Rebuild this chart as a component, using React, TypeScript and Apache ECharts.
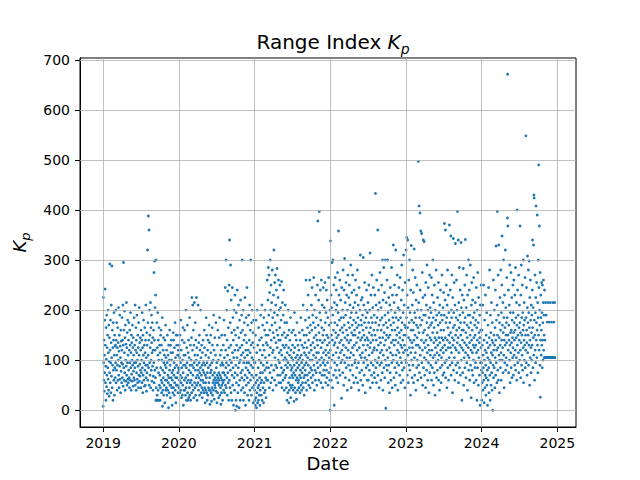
import React, { useEffect, useRef } from "react";
import * as echarts from "echarts";

// Daily range index Kp values, one array per year (index = day of year)
const kp2019 = [
  8, 225, 95, 60, 140, 38, 110, 75, 180, 242, 130, 55, 88, 20, 165, 102, 47, 190, 70, 125, 33, 150, 85, 200, 62, 115, 40, 170, 98, 28, 145,
  75, 292, 120, 55, 180, 95, 35, 135, 210, 68, 105, 288, 45, 160, 90, 125, 20, 175, 80, 140, 60, 195, 110, 30, 150, 85, 128, 65,
  130, 95, 200, 55, 140, 80, 175, 110, 40, 125, 90, 165, 60, 135, 100, 205, 70, 118, 45, 150, 88, 190, 62, 128, 105, 35, 160, 78, 138, 95, 55,
  120, 185, 65, 140, 92, 210, 48, 130, 295, 85, 160, 60, 115, 198, 75, 145, 40, 170, 100, 58, 132, 88, 215, 70, 125, 50, 155, 95, 180, 62,
  110, 55, 140, 80, 175, 65, 120, 45, 160, 95, 130, 60, 195, 85, 115, 40, 150, 72, 135, 100, 58, 170, 90, 125, 48, 145, 78, 110, 65, 185, 95,
  60, 130, 85, 210, 50, 120, 95, 165, 40, 140, 75, 115, 190, 62, 100, 55, 150, 88, 125, 45, 175, 70, 110, 205, 58, 135, 92, 68, 145, 80,
  120, 45, 160, 75, 100, 140, 55, 195, 85, 125, 35, 150, 70, 110, 180, 60, 95, 130, 48, 165, 80, 115, 50, 140, 90, 210, 65, 105, 38, 155, 75,
  130, 90, 320, 60, 175, 110, 388, 85, 140, 360, 50, 200, 95, 150, 70, 125, 215, 45, 165, 100, 80, 190, 135, 58, 115, 175, 88, 145, 40, 120, 68,
  160, 95, 275, 55, 140, 298, 80, 205, 120, 65, 230, 20, 300, 45, 20, 85, 175, 30, 125, 20, 195, 110, 40, 140, 75, 100, 165, 20, 50, 130,
  70, 115, 20, 45, 150, 85, 160, 60, 130, 35, 100, 55, 185, 8, 80, 40, 120, 65, 145, 30, 95, 50, 110, 75, 15, 140, 90, 60, 170, 40, 105,
  85, 45, 120, 60, 30, 95, 150, 40, 70, 110, 55, 5, 130, 65, 35, 100, 80, 160, 50, 90, 25, 130, 50, 115, 65, 140, 100, 45, 75, 10,
  60, 115, 35, 80, 155, 45, 140, 70, 95, 30, 125, 55, 85, 175, 40, 105, 65, 15, 150, 50, 90, 130, 65, 150, 50, 110, 75, 35, 120, 85, 110,
];

const kp2020 = [
  45, 80, 130, 60, 105, 35, 150, 70, 95, 40, 180, 55, 120, 25, 85, 65, 140, 30, 100, 50, 165, 75, 10, 90, 110, 40, 135, 60, 160, 40, 90,
  110, 30, 65, 200, 45, 85, 20, 125, 55, 95, 170, 35, 70, 20, 115, 60, 140, 25, 80, 105, 45, 185, 30, 90, 55, 130, 20, 75, 100,
  60, 145, 35, 225, 90, 50, 120, 210, 70, 40, 160, 85, 25, 130, 95, 215, 55, 110, 45, 175, 80, 30, 140, 65, 100, 225, 50, 125, 20, 90, 70,
  110, 55, 210, 80, 40, 135, 65, 95, 150, 30, 75, 120, 50, 85, 200, 60, 105, 35, 70, 130, 45, 90, 25, 115, 60, 80, 140, 40, 95, 55,
  75, 35, 160, 125, 45, 90, 15, 70, 55, 110, 40, 185, 65, 150, 35, 95, 20, 75, 120, 30, 140, 85, 45, 105, 55, 170, 40, 135, 65, 12, 90,
  40, 75, 150, 115, 35, 80, 18, 95, 45, 165, 130, 30, 70, 55, 100, 40, 190, 60, 120, 22, 75, 50, 145, 65, 45, 110, 55, 175, 38, 85,
  60, 95, 15, 70, 130, 35, 160, 55, 65, 100, 25, 75, 50, 145, 60, 185, 30, 70, 110, 45, 90, 12, 65, 120, 35, 150, 50, 95, 60, 20, 75,
  55, 90, 130, 40, 75, 180, 60, 105, 35, 150, 70, 245, 50, 120, 85, 300, 45, 95, 200, 65, 140, 30, 110, 238, 75, 55, 165, 90, 20, 125, 250,
  60, 340, 100, 45, 175, 80, 290, 130, 35, 220, 95, 155, 20, 70, 245, 115, 50, 185, 85, 140, 10, 105, 200, 65, 160, 40, 120, 230, 75, 0,
  150, 90, 20, 195, 55, 130, 8, 105, 240, 70, 165, 35, 120, 85, 210, 50, 145, 5, 95, 180, 60, 125, 20, 100, 220, 75, 155, 40, 110, 190, 65,
  130, 300, 80, 160, 45, 115, 200, 20, 95, 140, 60, 175, 35, 105, 225, 70, 150, 10, 120, 85, 185, 50, 135, 95, 245, 65, 110, 30, 170, 80,
  120, 55, 190, 95, 20, 140, 75, 210, 40, 115, 160, 60, 300, 90, 130, 30, 175, 70, 105, 200, 45, 135, 85, 155, 15, 100, 180, 65, 125, 50, 95,
];

const kp2021 = [
  40, 20, 95, 10, 150, 55, 25, 180, 70, 5, 115, 35, 200, 60, 15, 130, 45, 85, 20, 165, 50, 100, 30, 140, 65, 10, 120, 40, 75, 190, 55,
  95, 30, 145, 60, 210, 20, 110, 75, 170, 45, 130, 90, 15, 185, 55, 120, 35, 160, 80, 200, 40, 105, 65, 150, 25, 135, 85, 60,
  175, 95, 260, 130, 60, 220, 150, 285, 85, 190, 270, 110, 45, 235, 160, 75, 300, 125, 200, 55, 250, 140, 90, 215, 170, 65, 280, 115, 185, 40, 155,
  120, 230, 80, 320, 145, 195, 60, 255, 105, 175, 270, 90, 210, 135, 50, 240, 160, 85, 283, 125, 190, 70, 150, 225, 100, 260, 140, 55, 200, 115,
  95, 165, 250, 70, 140, 205, 55, 120, 180, 85, 257, 110, 45, 150, 215, 75, 130, 60, 190, 100, 240, 80, 155, 40, 125, 175, 65, 105, 210, 90, 145,
  70, 130, 45, 100, 175, 20, 115, 85, 150, 35, 95, 200, 55, 125, 15, 160, 40, 110, 65, 140, 50, 90, 185, 25, 120, 80, 45, 105, 155, 70,
  85, 50, 130, 65, 100, 40, 160, 75, 115, 18, 90, 195, 45, 125, 70, 150, 35, 105, 80, 60, 140, 22, 95, 175, 65, 110, 40, 85, 130, 55, 100,
  60, 120, 45, 90, 155, 70, 105, 35, 140, 80, 65, 185, 50, 110, 95, 40, 130, 75, 160, 55, 100, 85, 210, 45, 125, 65, 150, 30, 115, 90, 70,
  135, 80, 180, 55, 110, 260, 95, 150, 40, 125, 200, 70, 165, 105, 60, 230, 90, 140, 50, 185, 115, 75, 155, 260, 100, 45, 170, 85, 130, 65,
  120, 210, 80, 160, 245, 100, 55, 190, 135, 70, 175, 110, 265, 90, 145, 40, 200, 125, 80, 165, 60, 230, 105, 150, 75, 185, 115, 50, 140, 95, 250,
  130, 378, 85, 170, 115, 220, 60, 155, 397, 100, 195, 75, 140, 240, 90, 180, 55, 125, 260, 105, 165, 70, 210, 135, 45, 150, 95, 245, 115, 80,
  160, 100, 205, 70, 140, 255, 90, 175, 120, 55, 195, 110, 240, 80, 150, 65, 220, 130, 95, 185, 50, 145, 115, 265, 75, 170, 105, 135, 60, 200, 0,
];

const kp2022 = [
  120, 338, 85, 175, 230, 60, 150, 205, 100, 295, 140, 45, 190, 300, 110, 160, 70, 250, 130, 10, 215, 95, 175, 135, 265, 80, 155, 200, 115, 240, 65,
  145, 210, 90, 170, 275, 125, 55, 195, 150, 358, 105, 230, 80, 180, 135, 260, 70, 160, 115, 220, 95, 185, 140, 24, 245, 120, 165, 100,
  200, 75, 155, 280, 130, 185, 50, 240, 110, 170, 303, 95, 145, 215, 65, 190, 125, 255, 85, 160, 230, 105, 140, 40, 200, 150, 270, 120, 175, 90, 225,
  135, 60, 250, 165, 105, 210, 80, 185, 140, 290, 115, 45, 195, 155, 235, 90, 170, 125, 270, 70, 150, 205, 110, 180, 55, 240, 130, 160, 95, 215,
  150, 100, 260, 175, 65, 195, 135, 230, 85, 165, 120, 280, 55, 185, 145, 210, 95, 170, 40, 245, 125, 155, 75, 200, 110, 310, 140, 60, 180, 220, 105,
  170, 80, 145, 225, 115, 190, 50, 160, 305, 130, 95, 210, 150, 70, 175, 255, 105, 140, 35, 200, 120, 185, 85, 165, 240, 100, 145, 60, 195, 130,
  90, 215, 140, 60, 175, 250, 110, 155, 80, 200, 125, 314, 45, 165, 135, 230, 95, 185, 70, 150, 270, 115, 175, 55, 205, 140, 90, 245, 120, 160, 75,
  190, 125, 65, 230, 150, 100, 433, 175, 85, 210, 140, 55, 260, 120, 185, 95, 160, 360, 70, 200, 130, 240, 105, 170, 45, 215, 145, 90, 275, 115, 180,
  135, 60, 205, 160, 95, 250, 120, 185, 75, 300, 145, 40, 220, 110, 170, 285, 85, 155, 130, 235, 65, 190, 100, 300, 140, 4, 175, 215, 90, 150,
  120, 260, 80, 165, 300, 105, 195, 55, 145, 225, 90, 180, 125, 35, 210, 150, 75, 245, 115, 170, 60, 200, 135, 285, 95, 160, 45, 230, 110, 185, 140,
  330, 100, 175, 65, 215, 130, 250, 85, 160, 195, 50, 140, 320, 110, 185, 75, 230, 150, 95, 270, 120, 165, 40, 205, 135, 180, 90, 245, 115, 155,
  200, 70, 145, 265, 105, 185, 130, 55, 220, 160, 95, 290, 125, 175, 80, 240, 140, 60, 195, 115, 310, 150, 85, 210, 130, 170, 45, 255, 120, 165, 100,
];

const kp2023 = [
  150, 320, 95, 185, 345, 120, 230, 70, 165, 340, 110, 205, 55, 145, 260, 90, 175, 125, 300, 80, 195, 140, 30, 240, 115, 160, 329, 100, 180, 135, 65,
  210, 125, 280, 90, 160, 235, 55, 175, 140, 322, 105, 195, 70, 150, 265, 115, 185, 40, 220, 130, 170, 85, 250, 145, 100, 200, 60, 165,
  130, 497, 90, 215, 155, 408, 75, 185, 125, 394, 240, 110, 170, 358, 65, 200, 140, 353, 95, 180, 275, 120, 50, 225, 155, 340, 85, 190, 135, 337, 105,
  160, 70, 230, 125, 190, 45, 255, 140, 100, 210, 80, 175, 290, 115, 150, 60, 200, 130, 245, 95, 165, 35, 185, 120, 270, 75, 145, 205, 110, 170,
  90, 195, 140, 265, 60, 175, 120, 230, 85, 155, 300, 105, 185, 50, 215, 135, 165, 75, 250, 110, 145, 30, 200, 125, 180, 95, 280, 140, 65, 190, 115,
  155, 80, 225, 130, 100, 170, 255, 60, 145, 195, 110, 40, 210, 135, 175, 85, 240, 120, 160, 55, 190, 105, 145, 270, 90, 180, 125, 70, 205, 140,
  115, 235, 160, 75, 190, 373, 130, 95, 220, 145, 360, 65, 175, 120, 250, 100, 185, 45, 210, 140, 280, 85, 165, 125, 230, 60, 195, 150, 105, 370, 135,
  175, 90, 240, 125, 155, 348, 70, 200, 115, 185, 270, 95, 145, 35, 225, 130, 165, 343, 80, 195, 140, 255, 105, 170, 60, 210, 125, 333, 150, 90, 185,
  120, 260, 160, 75, 200, 135, 397, 95, 180, 145, 340, 55, 215, 115, 165, 285, 85, 190, 130, 240, 70, 175, 150, 335, 100, 205, 125, 20, 160, 230,
  140, 75, 195, 120, 283, 160, 50, 220, 105, 175, 135, 250, 85, 185, 341, 115, 155, 65, 205, 130, 270, 95, 170, 145, 40, 230, 110, 190, 125, 300, 80,
  165, 105, 240, 135, 60, 190, 150, 290, 90, 175, 120, 25, 210, 140, 255, 80, 160, 115, 220, 70, 185, 130, 100, 265, 145, 55, 195, 125, 170, 85,
  150, 215, 95, 180, 130, 60, 245, 115, 165, 20, 200, 140, 85, 275, 120, 175, 50, 225, 105, 155, 135, 70, 190, 145, 10, 210, 95, 160, 125, 250, 80,
];

const kp2024 = [
  95, 20, 160, 55, 130, 75, 210, 40, 110, 85, 250, 60, 140, 15, 100, 180, 45, 120, 70, 230, 90, 30, 150, 65, 115, 195, 50, 135, 80, 10, 105,
  170, 60, 125, 245, 85, 35, 145, 100, 280, 70, 130, 20, 190, 95, 155, 50, 115, 215, 75, 140, 40, 175, 110, 0, 135, 90, 260, 65, 120,
  150, 85, 200, 130, 45, 165, 105, 240, 70, 140, 328, 95, 180, 120, 55, 210, 397, 150, 80, 125, 270, 60, 190, 330, 110, 145, 35, 175, 100, 225, 130,
  85, 160, 280, 115, 60, 195, 140, 250, 348, 100, 170, 125, 215, 75, 155, 300, 110, 185, 45, 140, 230, 95, 165, 130, 320, 80, 205, 150, 105, 175,
  135, 265, 90, 185, 384, 671, 368, 150, 120, 240, 75, 170, 140, 210, 100, 290, 130, 55, 195, 155, 115, 275, 85, 160, 135, 225, 65, 180, 145, 105, 250,
  125, 195, 70, 155, 260, 110, 175, 140, 90, 230, 160, 120, 285, 80, 185, 145, 105, 215, 60, 170, 400, 130, 240, 95, 150, 190, 115, 270, 75, 165,
  140, 210, 100, 175, 368, 120, 155, 65, 230, 135, 290, 90, 185, 150, 110, 250, 80, 195, 160, 125, 300, 55, 170, 140, 215, 100, 180, 130, 265, 85, 150,
  120, 548, 185, 95, 245, 160, 135, 70, 205, 308, 115, 175, 150, 280, 90, 195, 130, 298, 165, 50, 225, 140, 105, 260, 180, 125, 75, 210, 155, 100, 190,
  130, 240, 340, 165, 85, 205, 145, 330, 110, 430, 424, 180, 60, 150, 270, 120, 195, 95, 225, 408, 140, 175, 255, 105, 160, 390, 130, 215, 75, 185,
  300, 150, 490, 245, 120, 368, 200, 170, 90, 275, 26, 140, 230, 185, 110, 160, 255, 130, 195, 85, 250, 140, 175, 100, 215, 260, 120, 190, 150, 105, 240,
  105, 140, 105, 105, 215, 105, 105, 190, 105, 105, 105, 105, 176, 105, 105, 105, 215, 105, 105, 105, 105, 105, 176, 105, 105, 105, 105, 215, 105, 105,
  105, 105, 105, 176, 105, 105, 105, 105, 105, 215, 105, 105, 105, 105, 176, 105, 105, 105, 215, 105,
];

const seriesByYear: [number, number[]][] = [
  [2019, kp2019],
  [2020, kp2020],
  [2021, kp2021],
  [2022, kp2022],
  [2023, kp2023],
  [2024, kp2024],
];

const xTickYears = [2019, 2020, 2021, 2022, 2023, 2024, 2025];
const yTicks = [0, 100, 200, 300, 400, 500, 600, 700];

const FONT = "DejaVu Sans";

export default function App() {
  const ref = useRef<HTMLDivElement>(null);

  useEffect(() => {
    document.body.style.margin = "0";
    if (!ref.current) return;
    const chart = echarts.init(ref.current, undefined, { renderer: "svg" });

    const data: number[][] = [];
    seriesByYear.forEach(([year, vals]) => {
      vals.forEach((v, i) => data.push([Date.UTC(year, 0, 1 + i), v]));
    });

    const xTicks = xTickYears.map((y) => Date.UTC(y, 0, 1));
    const dayMs = 86400000;
    const xMin = Date.UTC(2019, 0, 1) - 112 * dayMs;
    const xMax = Date.UTC(2025, 0, 1) + 90 * dayMs;

    const gridLineStyle = { color: "#b0b0b0", width: 0.8, type: "solid" as const };

    chart.setOption({
      animation: false,
      backgroundColor: "#ffffff",
      title: {
        text: "{a|Range Index }{k|K}{p|p}",
        left: 328,
        top: 27,
        textAlign: "center",
        textStyle: {
          fontWeight: "normal",
          rich: {
            a: { fontFamily: FONT, fontSize: 20, fontWeight: "normal", color: "#000", lineHeight: 24, verticalAlign: "top" },
            k: { fontFamily: FONT, fontSize: 20, fontWeight: "normal", fontStyle: "italic", color: "#000", lineHeight: 24, verticalAlign: "top" },
            p: { fontFamily: FONT, fontSize: 14, fontWeight: "normal", fontStyle: "italic", color: "#000", lineHeight: 12, verticalAlign: "bottom" },
          },
        },
      },
      grid: {
        left: 80,
        right: 64,
        top: 58,
        bottom: 53,
        show: true,
        borderColor: "#000",
        borderWidth: 1,
        backgroundColor: "transparent",
      },
      xAxis: {
        type: "value",
        min: xMin,
        max: xMax,
        name: "Date",
        nameLocation: "middle",
        nameGap: 27,
        nameTextStyle: { fontFamily: FONT, fontSize: 18, color: "#000" },
        axisLine: { show: true, onZero: false, lineStyle: { color: "#000", width: 1 } },
        axisTick: { show: true, inside: false, length: 5, customValues: xTicks, lineStyle: { color: "#000", width: 1 } },
        axisLabel: {
          customValues: xTicks,
          formatter: (v: number) => String(new Date(v).getUTCFullYear()),
          fontFamily: FONT,
          fontSize: 14,
          color: "#000",
          margin: 9,
        },
        splitLine: { show: false },
      },
      yAxis: {
        type: "value",
        min: -33.5,
        max: 703.5,
        name: "{k|K}{p|p}",
        nameLocation: "middle",
        nameGap: 45,
        nameRotate: 90,
        nameTextStyle: {
          rich: {
            k: { fontFamily: FONT, fontSize: 18, fontStyle: "italic", color: "#000", lineHeight: 22, verticalAlign: "top" },
            p: { fontFamily: FONT, fontSize: 13, fontStyle: "italic", color: "#000", lineHeight: 11, verticalAlign: "bottom" },
          },
        },
        axisLine: { show: true, onZero: false, lineStyle: { color: "#000", width: 1 } },
        axisTick: { show: true, inside: false, length: 5, customValues: yTicks, lineStyle: { color: "#000", width: 1 } },
        axisLabel: {
          customValues: yTicks,
          fontFamily: FONT,
          fontSize: 14,
          color: "#000",
          margin: 10,
        },
        splitLine: { show: false },
      },
      series: [
        {
          type: "scatter",
          data,
          symbol: "circle",
          symbolSize: 2.8,
          itemStyle: { color: "#1f77b4", opacity: 1 },
          silent: true,
          z: 2,
        },
        {
          type: "line",
          data: [],
          silent: true,
          z: 5,
          markLine: {
            silent: true,
            symbol: "none",
            label: { show: false },
            lineStyle: gridLineStyle,
            data: [
              ...xTicks.map((v) => ({ xAxis: v })),
              ...yTicks.map((v) => ({ yAxis: v })),
            ],
          },
        },
      ],
    });

    return () => chart.dispose();
  }, []);

  return <div ref={ref} style={{ width: 640, height: 480 }} />;
}
